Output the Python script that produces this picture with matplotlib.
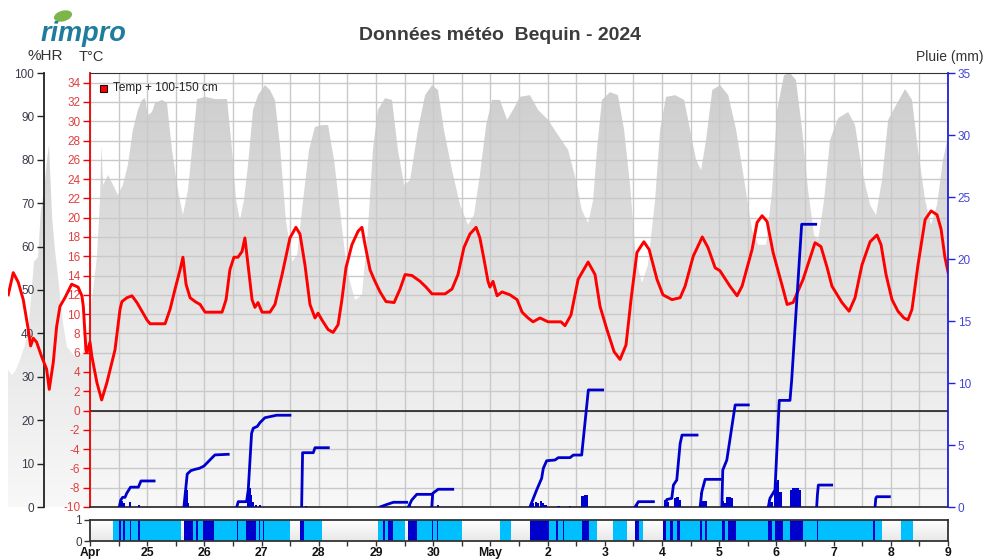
import numpy as np
import matplotlib
matplotlib.use("Agg")
import matplotlib.pyplot as plt
from matplotlib.colors import LinearSegmentedColormap
from matplotlib.patches import Rectangle, Ellipse
from matplotlib.ticker import FixedLocator

plt.rcParams['font.family'] = ['Liberation Sans', 'DejaVu Sans']
plt.rcParams['axes.unicode_minus'] = False

# ---------------- data (time = hours after 24 Apr 2024 00:00) ----------------
temp_h = [-34.3, -32.2, -30.1, -28.0, -25.9, -24.9, -23.8, -22.4, -20.3, -18.2, -17.1, -15.4, -14.0,
          -12.6, -10.5, -7.7, -5.0, -3.4, -2.8, -1.7, -1.3, 0.0, 0.8, 2.9, 4.9, 7.1, 10.5, 12.6, 13.4,
          15.5, 17.6, 19.7, 21.8, 23.9, 25.2, 31.5, 33.6, 35.7, 37.8, 39.0, 40.3, 42.0, 44.1, 46.2,
          48.3, 55.4, 57.1, 58.7, 60.4, 62.1, 63.8, 65.0, 66.3, 68.0, 69.2, 70.5, 72.2, 75.5, 77.6,
          80.6, 83.9, 86.4, 88.1, 90.2, 92.3, 94.4, 95.7, 97.3, 99.9, 102.0, 104.1, 105.7, 107.4,
          109.9, 112.5, 114.1, 115.4, 117.5, 119.2, 121.7, 124.2, 127.6, 130.1, 132.2, 135.1, 138.5,
          141.0, 143.5, 149.0, 151.9, 154.4, 156.9, 159.4, 162.0, 163.6, 165.3, 167.0, 167.8, 169.1,
          170.8, 172.9, 176.2, 179.2, 181.3, 183.8, 185.9, 188.8, 192.2, 197.6, 199.3, 201.8, 204.8,
          209.0, 211.9, 214.0, 216.9, 219.9, 222.4, 224.9, 227.0, 229.5, 232.4, 234.6, 237.9, 240.4,
          244.2, 247.6, 249.7, 253.1, 256.9, 259.3, 262.3, 264.3, 268.5, 271.5, 273.6, 277.8, 279.9,
          282.0, 284.1, 286.6, 290.8, 292.5, 295.0, 299.2, 304.2, 306.7, 309.2, 311.3, 315.5, 318.5,
          321.0, 323.9, 327.3, 330.2, 331.9, 334.0, 336.5, 339.0, 341.5, 343.2, 344.9, 347.4, 350.4,
          352.9, 355.4, 357.1, 358.7, 360.4]
temp_c = [12.0, 14.3, 13.3, 11.5, 8.4, 6.7, 7.5, 7.1, 5.6, 4.3, 2.2, 5.0, 8.7,
          10.8, 11.7, 13.1, 12.8, 11.9, 10.8, 6.3, 6.0, 7.1, 5.6, 2.9, 1.1, 2.9, 6.3, 10.5, 11.3,
          11.7, 11.9, 11.2, 10.3, 9.4, 9.0, 9.0, 10.5, 12.6, 14.6, 15.9, 13.1, 11.7, 11.3, 11.0,
          10.2, 10.2, 11.5, 14.6, 15.9, 15.9, 16.5, 17.9, 15.1, 11.5, 10.7, 11.2, 10.2, 10.2, 11.0,
          14.1, 17.9, 19.0, 18.3, 15.1, 11.0, 9.6, 10.1, 9.4, 8.4, 8.1, 8.9, 11.5, 14.8,
          17.2, 18.6, 19.0, 17.2, 14.6, 13.6, 12.3, 11.3, 11.2, 12.6, 14.1, 14.0, 13.4,
          12.8, 12.1, 12.1, 12.6, 14.1, 16.9, 18.3, 19.0, 17.9, 15.7, 13.4, 12.8, 13.4,
          11.9, 12.3, 12.0, 11.5, 10.2, 9.6, 9.2, 9.6, 9.2, 9.2, 8.8, 9.9, 13.6,
          15.4, 14.1, 10.8, 8.4, 6.1, 5.3, 6.8, 11.5, 16.4, 17.5, 16.7, 13.6, 12.0,
          11.5, 11.7, 12.9, 16.0, 18.0, 16.9, 14.8, 14.5, 12.9, 11.9, 12.9, 16.7, 19.5,
          20.2, 19.6, 16.4, 12.6, 11.0, 11.2, 13.6, 17.4, 17.0, 14.9, 12.9, 11.2, 10.3,
          11.7, 15.1, 17.5, 18.2, 17.2, 14.1, 11.5, 10.3, 9.6, 9.4, 10.5, 15.1, 19.8,
          20.7, 20.3, 18.8, 15.9, 13.9]

hr_h = [-34.4, -32.7, -31.1, -29.4, -27.3, -26.0, -24.8, -23.5, -21.8, -20.6, -19.3, -18.0, -17.2,
        -15.9, -14.7, -13.4, -11.3, -9.7, -6.3, -2.9, -0.8, 1.3, 2.9, 4.2, 4.8, 5.5, 7.6, 9.7, 11.7,
        13.8, 15.9, 18.0, 20.1, 21.8, 23.1, 24.3, 26.0, 27.3, 30.2, 32.3, 34.4, 36.9, 39.0, 41.1,
        43.2, 44.9, 48.3, 52.5, 57.5, 59.6, 61.3, 62.9, 64.6, 66.3, 68.4, 70.5, 73.4, 75.5, 77.6,
        79.7, 82.2, 84.8, 86.9, 89.4, 91.9, 94.4, 97.3, 99.9, 102.4, 104.9, 107.8, 111.2, 114.1,
        116.6, 118.7, 120.8, 123.8, 126.7, 129.2, 131.8, 134.3, 137.6, 140.6, 143.5, 146.0, 148.5,
        151.9, 155.3, 158.6, 161.1, 163.6, 166.2, 168.7, 172.0, 175.0, 177.5, 180.4, 184.6, 188.0,
        192.2, 196.4, 200.6, 203.9, 206.4, 209.0, 211.1, 212.7, 214.8, 218.2, 221.5, 224.1, 226.6,
        229.1, 231.6, 234.1, 237.1, 239.2, 241.7, 245.5, 249.3, 251.8, 254.3, 256.4, 258.5, 261.1,
        264.4, 267.8, 271.1, 274.5, 277.8, 280.4, 283.7, 286.2, 288.3, 291.2, 293.7, 296.2, 298.8,
        301.3, 303.8, 305.5, 308.0, 310.5, 313.9, 318.1, 321.0, 323.9, 327.3, 329.8, 332.3, 334.9,
        337.8, 342.0, 344.9, 347.4, 350.4, 352.9, 355.4, 357.9, 360.0]
hr_pct = [31.6, 30.4, 31.6, 33.9, 37.3, 40.8, 47.7, 56.5, 57.6, 68.4, 73.0, 80.0, 83.4,
          66.8, 59.2, 53.0, 42.4, 36.9, 34.6, 35.7, 40.8, 50.0, 57.6, 70.7, 83.2, 74.2, 76.5, 74.2, 71.9,
          74.2, 78.8, 86.9, 91.5, 93.8, 94.2, 90.3, 91.0, 93.1, 93.8, 93.1, 82.3, 73.0, 67.3, 73.0,
          84.6, 94.0, 94.5, 94.0, 94.0, 82.3, 70.7, 66.1, 70.7, 78.8, 91.5, 94.9, 97.2, 96.1, 93.8,
          83.4, 66.1, 56.5, 58.1, 70.7, 82.3, 87.6, 88.0, 88.0, 80.0, 68.4, 54.6, 47.7, 48.8,
          63.8, 82.3, 91.5, 94.2, 93.8, 82.3, 74.2, 75.3, 86.9, 94.9, 97.2, 96.1, 86.9,
          77.6, 69.6, 65.0, 67.3, 76.5, 88.0, 93.8, 93.8, 89.2, 91.5, 94.5, 94.9, 91.5,
          89.2, 85.7, 82.3, 75.3, 68.4, 65.4, 70.7, 82.3, 93.8, 95.6, 94.9, 86.9, 74.2,
          56.9, 51.6, 55.8, 70.7, 86.9, 94.5, 94.9, 93.8, 86.9, 80.0, 77.6, 84.6, 96.1,
          97.2, 94.9, 86.9, 75.3, 63.8, 60.4, 60.4, 73.0, 91.5, 99.5, 100.0, 98.4, 86.9,
          73.0, 62.7, 61.5, 70.7, 84.6, 89.6, 91.0, 88.0, 77.6, 69.6, 67.3, 75.3, 89.2,
          92.2, 96.3, 93.8, 82.3, 70.7, 65.0, 69.6, 80.0, 85.3]

# cumulative rain per event (mm)
rain_cum_h = [
    [12.3, 12.9, 13.7, 14.7, 15.4, 17.0, 20.3, 21.4, 26.9],
    [39.4, 40.8, 42.3, 44.1, 45.9, 47.8, 52.4, 58.0],
    [61.6, 62.2, 65.7, 66.4, 67.8, 68.5, 70.2, 71.3, 73.4, 78.3, 83.9],
    [88.8, 89.2, 93.7, 94.4, 100.0],
    [121.7, 124.5, 127.3, 132.9],
    [133.6, 135.0, 137.1, 143.3],
    [143.4, 143.8, 146.1, 152.2],
    [184.6, 187.4, 189.5, 190.2, 191.6, 195.1, 196.5, 201.4, 202.8, 206.3, 209.1, 215.1],
    [228.7, 230.1, 236.4],
    [241.3, 242.0, 244.1, 244.8, 246.2, 247.6, 248.4, 254.7],
    [256.0, 256.7, 258.1, 264.4],
    [265.1, 265.5, 267.2, 270.7, 276.2],
    [284.6, 285.3, 287.4, 289.2, 293.7, 294.4, 298.6, 304.5],
    [304.9, 305.2, 305.6, 311.2],
    [329.4, 329.7, 330.1, 335.4],
]
rain_cum_mm = [
    [0, 0.56, 0.78, 0.78, 1.1, 1.6, 1.6, 2.1, 2.1],
    [0, 2.66, 2.93, 3.04, 3.12, 3.3, 4.2, 4.25],
    [0, 0.43, 0.43, 1.37, 5.94, 6.35, 6.5, 6.8, 7.2, 7.4, 7.4],
    [0, 4.38, 4.38, 4.78, 4.78],
    [0, 0.2, 0.38, 0.38],
    [0, 0.56, 1.02, 1.02],
    [0, 1.1, 1.43, 1.43],
    [0, 1.37, 2.31, 3.12, 3.73, 3.79, 3.98, 3.98, 4.19, 4.19, 9.44, 9.44],
    [0, 0.43, 0.43],
    [0, 0.6, 0.7, 1.77, 2.18, 5.1, 5.8, 5.8],
    [0, 1.23, 2.23, 2.23],
    [0, 2.98, 3.79, 8.23, 8.23],
    [0, 0.7, 1.37, 8.6, 8.6, 10.2, 22.8, 22.8],
    [0, 0.97, 1.77, 1.77],
    [0, 0.7, 0.83, 0.83],
]

# hourly rain (mm)
rain_bar_h = [13.4, 14.3, 16.8, 20.6, 39.9, 40.5, 41.1, 61.7, 66.3, 66.9, 67.6, 68.4, 69.7, 71.3,
              89.0, 90.6, 122.9, 134.3, 146.0, 185.0, 186.0, 187.1, 188.1, 189.2, 190.2, 191.2,
              196.6, 201.4, 206.6, 207.6, 208.6, 229.5, 241.5, 242.5, 245.5, 246.5, 247.5, 256.3,
              257.3, 258.3, 265.4, 266.5, 267.5, 268.5, 269.5, 285.0, 286.0, 287.7, 288.7, 289.7,
              294.0, 295.0, 296.0, 297.0, 298.0, 305.0, 329.5]
rain_bar_mm = [0.5, 0.3, 0.4, 0.15, 0.6, 1.4, 0.3, 0.2, 0.6, 1.5, 1.0, 0.4, 0.2, 0.2,
               2.1, 0.1, 0.15, 0.15, 0.15, 0.3, 0.35, 0.4, 0.3, 0.45, 0.35, 0.2,
               0.1, 0.1, 0.9, 1.0, 0.95, 0.2, 0.6, 0.4, 0.7, 0.8, 0.6, 1.1,
               0.5, 0.5, 0.5, 0.3, 0.8, 0.8, 0.7, 0.6, 0.4, 2.0, 2.2, 1.2,
               1.4, 1.5, 1.55, 1.5, 1.4, 0.5, 0.3]

# leaf wetness strip: wet periods and rain periods (hours)
wet_start = [9.8, 39.4, 88.1, 121.0, 133.3, 172.0, 184.6, 219.6, 228.7, 240.6, 340.3]
wet_end = [38.1, 83.9, 97.3, 132.2, 156.0, 176.6, 212.6, 225.2, 232.2, 332.2, 345.5]
rainy_start = [12.3, 14.0, 16.8, 20.0, 39.4, 44.5, 47.5, 61.6, 65.3, 71.0, 72.5, 88.1, 123.1, 125.0,
               133.3, 143.4, 145.5, 184.6, 195.5, 198.3, 206.3, 228.7, 240.6, 243.4, 246.2, 256.0,
               258.1, 265.2, 267.8, 284.5, 287.4, 293.7, 304.9, 328.7]
rainy_end = [12.9, 14.7, 17.1, 21.0, 43.3, 45.4, 52.0, 62.0, 69.7, 71.5, 73.0, 89.8, 123.8, 127.1,
             137.3, 144.0, 146.1, 192.6, 196.2, 199.0, 209.4, 230.5, 241.6, 244.8, 247.6, 256.8,
             259.0, 266.4, 271.2, 286.2, 290.8, 299.2, 305.6, 329.5]

day_ticks = list(range(0, 361, 24))
day_labels = ['Apr', '25', '26', '27', '28', '29', '30', 'May', '2', '3', '4', '5', '6', '7', '8', '9']
temp_ticks = list(range(-10, 35, 2))
hr_ticks = list(range(0, 101, 10))
rain_ticks = list(range(0, 36, 5))

# ---------------- figure ----------------
W, H = 991, 559
fig = plt.figure(figsize=(W / 100, H / 100), dpi=100)


def axes_px(x0, y0, x1, y1):
    return fig.add_axes([x0 / W, 1 - y1 / H, (x1 - x0) / W, (y1 - y0) / H])


X_LEFT, X_RIGHT = -34.4, 360.0
HR_AXIS_X = -19.3
RED = '#ee0000'
BLUE = '#0000cc'

# --- humidity (base layer) ---
ax_hr = axes_px(8, 73, 948, 507)
ax_hr.patch.set_visible(False)
poly = ax_hr.fill_between(hr_h, 0, hr_pct, facecolor='none', edgecolor='none')
grad = np.linspace(0, 1, 256).reshape(-1, 1)
cmap_hr = LinearSegmentedColormap.from_list('hr', ['#f8f8f8', '#cdcdcd'])
im = ax_hr.imshow(grad, extent=[X_LEFT, X_RIGHT, 0, 100], origin='lower', aspect='auto',
                  cmap=cmap_hr, zorder=1, interpolation='bilinear')
im.set_clip_path(poly.get_paths()[0], transform=ax_hr.transData)
ax_hr.set_xlim(X_LEFT, X_RIGHT)
ax_hr.set_ylim(0, 100)
for s in ['top', 'right', 'bottom']:
    ax_hr.spines[s].set_visible(False)
ax_hr.spines['left'].set_position(('data', HR_AXIS_X))
ax_hr.spines['left'].set_color('#222222')
ax_hr.spines['left'].set_linewidth(1.3)
ax_hr.yaxis.set_major_locator(FixedLocator(hr_ticks))
ax_hr.tick_params(axis='y', length=5, width=1, color='#222222', labelcolor='#3a3a4a',
                  labelsize=8.5, pad=2)
ax_hr.tick_params(axis='x', bottom=False, labelbottom=False)

# --- temperature ---
ax = ax_hr.twinx()
ax.set_ylim(-10, 35)
ax.yaxis.tick_left()
ax.spines['right'].set_visible(False)
ax.spines['left'].set_position(('data', 0))
ax.spines['left'].set_color(RED)
ax.spines['left'].set_linewidth(1.3)
ax.spines['top'].set_bounds(0, X_RIGHT)
ax.spines['top'].set_color('#333333')
ax.spines['bottom'].set_bounds(0, X_RIGHT)
ax.spines['bottom'].set_color('#333333')
ax.spines['bottom'].set_linewidth(1.3)
ax.spines['bottom'].set_visible(True)
ax.set_yticks(temp_ticks)
ax.tick_params(axis='y', length=5, width=1, color=RED, labelcolor='#e04040', labelsize=8.5, pad=2)
ax.vlines(np.arange(0, X_RIGHT + 1, 12), -10, 35, colors='#c9c9c9', lw=1, zorder=0.5)
ax.hlines(temp_ticks, 0, X_RIGHT, colors='#c9c9c9', lw=1, zorder=0.5)
ax.hlines(0, 0, X_RIGHT, colors='#222222', lw=1.2, zorder=1)
ax.plot(temp_h, temp_c, color='#ff0000', lw=2.1, zorder=3, solid_joinstyle='round')

# --- rain ---
ax_r = ax_hr.twinx()
ax_r.set_ylim(0, 35)
for s in ['top', 'left', 'bottom']:
    ax_r.spines[s].set_visible(False)
ax_r.spines['right'].set_color('#2020dd')
ax_r.spines['right'].set_linewidth(1.3)
ax_r.set_yticks(rain_ticks)
ax_r.tick_params(axis='y', length=5, width=1, color='#2020dd', labelcolor='#4545d5', labelsize=8.5, pad=2)
ax_r.bar(rain_bar_h, rain_bar_mm, width=1.0, color=BLUE, zorder=2)
for hh, mm in zip(rain_cum_h, rain_cum_mm):
    ax_r.plot(hh, mm, color=BLUE, lw=2, zorder=3)

# --- leaf wetness strip ---
ax_s = axes_px(90, 520, 948, 541)
cmap_s = LinearSegmentedColormap.from_list('s', ['#e8e8e8', '#ffffff'])
ax_s.imshow(grad, extent=[0, X_RIGHT, 0, 1], origin='lower', aspect='auto', cmap=cmap_s, zorder=0)
ax_s.broken_barh([(a, b - a) for a, b in zip(wet_start, wet_end)], (0, 1), facecolors='#00bfff', zorder=1)
ax_s.broken_barh([(a, b - a) for a, b in zip(rainy_start, rainy_end)], (0, 1), facecolors=BLUE, zorder=2)
ax_s.set_xlim(0, X_RIGHT)
ax_s.set_ylim(0, 1)
ax_s.set_xticks(day_ticks)
ax_s.set_xticklabels(day_labels, fontsize=8.8, fontweight='bold', color='#111111')
ax_s.set_xticks(np.arange(12, X_RIGHT, 24), minor=True)
ax_s.tick_params(axis='x', which='both', length=3.5, width=1, color='#333333', pad=1)
ax_s.set_yticks([0, 1])
ax_s.tick_params(axis='y', length=4, width=1, color='#333333', labelcolor='#3a3a4a', labelsize=8.5, pad=2)
for s in ax_s.spines.values():
    s.set_color('#333333')
    s.set_linewidth(1.3)

# --- texts ---
fig.text(500 / W, 1 - 35 / H, 'Données météo  Bequin - 2024', ha='center', va='center',
         fontsize=14, fontweight='bold', color='#3c3c3c')
fig.text(41 / W, 1 - 34 / H, 'rimpro', ha='left', va='center', fontsize=19.5, fontweight='bold',
         fontstyle='italic', color='#1f7c9c')
fig.patches.append(Ellipse((63 / W, 1 - 16 / H), 22 / W, 9 / H, angle=55, transform=fig.transFigure,
                           facecolor='#7cb64a', edgecolor='none'))
fig.text(45 / W, 1 - 56 / H, '%HR', ha='center', va='center', fontsize=11, color='#333333')
fig.text(91 / W, 1 - 57 / H, 'T°C', ha='center', va='center', fontsize=10.5, color='#333333')
fig.text(950 / W, 1 - 57 / H, 'Pluie (mm)', ha='center', va='center', fontsize=10, color='#333333')
fig.patches.append(Rectangle((100 / W, 1 - 92 / H), 7 / W, 7 / H, transform=fig.transFigure,
                             facecolor='#ff0000', edgecolor='#111111', lw=0.8))
fig.text(113 / W, 1 - 88.5 / H, 'Temp + 100-150 cm', ha='left', va='center', fontsize=8.5, color='#222222')

fig.savefig('out.png', dpi=100)
